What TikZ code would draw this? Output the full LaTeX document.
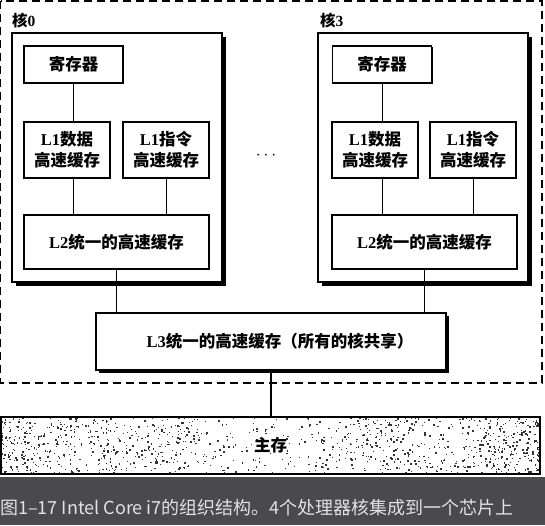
\documentclass[tikz,border=0pt]{standalone}
\usepackage{fontspec}
\setmainfont{Liberation Serif}
\newfontfamily\cjk{Noto Sans CJK SC}
\usetikzlibrary{calc,shadows}
\definecolor{capbg}{HTML}{4A4A4C}
\definecolor{captext}{HTML}{E2E2E2}
\newcommand{\zh}[1]{{\cjk\bfseries #1}}

\tikzset{
  boxtext/.style={font=\fontsize{16.5}{21}\selectfont\bfseries, align=center},
  cache/.style={draw, line width=1.1pt, fill=white, inner sep=0pt, outer sep=0pt,
    boxtext, drop shadow={shadow xshift=1pt, shadow yshift=-1pt, opacity=1, fill=black}},
  corebox/.style={draw, line width=1.2pt, fill=white, inner sep=0pt, outer sep=0pt,
    minimum width=210pt, minimum height=249pt,
    drop shadow={shadow xshift=4pt, shadow yshift=-4pt, opacity=1, fill=black}},
  corelabel/.style={anchor=west, inner sep=0pt, font=\fontsize{15.5}{18}\selectfont\bfseries},
  wire/.style={line width=0.9pt},
  chipframe/.style={line width=1.3pt, dash pattern=on 8pt off 5pt},
}

\begin{document}
\begin{tikzpicture}[x=1pt, y=-1pt]
\useasboundingbox (0,0) rectangle (545,525);

% chip boundary
\draw[chipframe] (0.7,1) rectangle (542,383);

% ---- core 0 ----
\node[corelabel] (lbl0) at (12,21) {\zh{核}0};
\node[corebox] (core0) at (117,157.5) {};
\node[cache, minimum width=99pt, minimum height=37pt] (reg0) at (73.5,64.5) {\zh{寄存器}};
\node[cache, minimum width=86pt, minimum height=56pt] (l1d0) at (67,150) {L1\zh{数据}\\\zh{高速缓存}};
\node[cache, minimum width=86pt, minimum height=56pt] (l1i0) at (166,150) {L1\zh{指令}\\\zh{高速缓存}};
\node[cache, minimum width=185pt, minimum height=54pt] (l20) at (116.5,242) {L2\zh{统一的高速缓存}};

% ---- core 3 ----
\node[corelabel] (lbl3) at (320,21) {\zh{核}3};
\node[corebox] (core3) at (423,157.5) {};
\node[cache, minimum width=99pt, minimum height=37pt] (reg3) at (382,64.5) {\zh{寄存器}};
\node[cache, minimum width=86pt, minimum height=56pt] (l1d3) at (375,150) {L1\zh{数据}\\\zh{高速缓存}};
\node[cache, minimum width=86pt, minimum height=56pt] (l1i3) at (473,150) {L1\zh{指令}\\\zh{高速缓存}};
\node[cache, minimum width=185pt, minimum height=54pt] (l23) at (424.5,242) {L2\zh{统一的高速缓存}};

% elided cores
\node[inner sep=0pt, font=\fontsize{17}{20}\selectfont] (dots) at (266,156) {$\cdots$};

% ---- shared L3 ----
\node[draw, line width=1.2pt, fill=white, inner sep=0pt, outer sep=0pt,
      minimum width=350pt, minimum height=57pt, boxtext,
      drop shadow={shadow xshift=3pt, shadow yshift=-3pt, opacity=1, fill=black}]
      (l3) at (271,341.5) {\hspace*{18pt}L3\zh{统一的高速缓存（所有的核共享）}};

% ---- main memory ----
\node[draw, line width=2pt, fill=white, inner sep=0pt, outer sep=0pt,
      minimum width=539pt, minimum height=57pt, boxtext,
      path picture={
        \pgfmathsetseed{1717}
        % light speckle over the whole box
        \foreach \i in {1,...,650}{
          \pgfmathsetmacro\rx{539*rnd}
          \pgfmathsetmacro\ry{57*rnd}
          \pgfmathsetmacro\rs{0.8+1.1*rnd}
          \fill[black!80] ($(path picture bounding box.north west)+(\rx,\ry)$) rectangle ++(\rs,\rs);
        }
        % heavier speckle towards both ends
        \foreach \i in {1,...,550}{
          \pgfmathsetmacro\rx{200*rnd^1.6}
          \pgfmathsetmacro\rside{rnd}
          \pgfmathsetmacro\px{\rside<0.5 ? \rx : 539-\rx}
          \pgfmathsetmacro\ry{57*rnd}
          \pgfmathsetmacro\rs{0.8+1.1*rnd}
          \fill[black!80] ($(path picture bounding box.north west)+(\px,\ry)$) rectangle ++(\rs,\rs);
        }
      }] (mem) at (270.5,445) {\zh{主存}};

% ---- connections inside the cores ----
\draw[wire] (reg0.south) -- (reg0.south |- l1d0.north);
\draw[wire] (l1d0.south -| reg0.south) -- (l20.north -| reg0.south);
\draw[wire] (l1i0.south) -- (l20.north -| l1i0.south);
\draw[wire] (reg3.south) -- (reg3.south |- l1d3.north);
\draw[wire] (l1d3.south -| reg3.south) -- (l23.north -| reg3.south);
\draw[wire] (l1i3.south) -- (l23.north -| l1i3.south);

% ---- L2 to L3, L3 to memory ----
\draw[wire] (l20.south) -- (l20.south |- l3.north);
\draw[wire] (l23.south) -- (l23.south |- l3.north);
\draw[line width=1.2pt] (l3.south) -- (mem.north -| l3.south);

% ---- caption ----
\fill[capbg] (0,477) rectangle (545,525);
\node[anchor=west, inner sep=0pt, text=captext, font=\cjk\fontsize{18}{20}\selectfont]
  (cap) at (0,508) {图1–17 Intel Core i7的组织结构。4个处理器核集成到一个芯片上};
\end{tikzpicture}
\end{document}
